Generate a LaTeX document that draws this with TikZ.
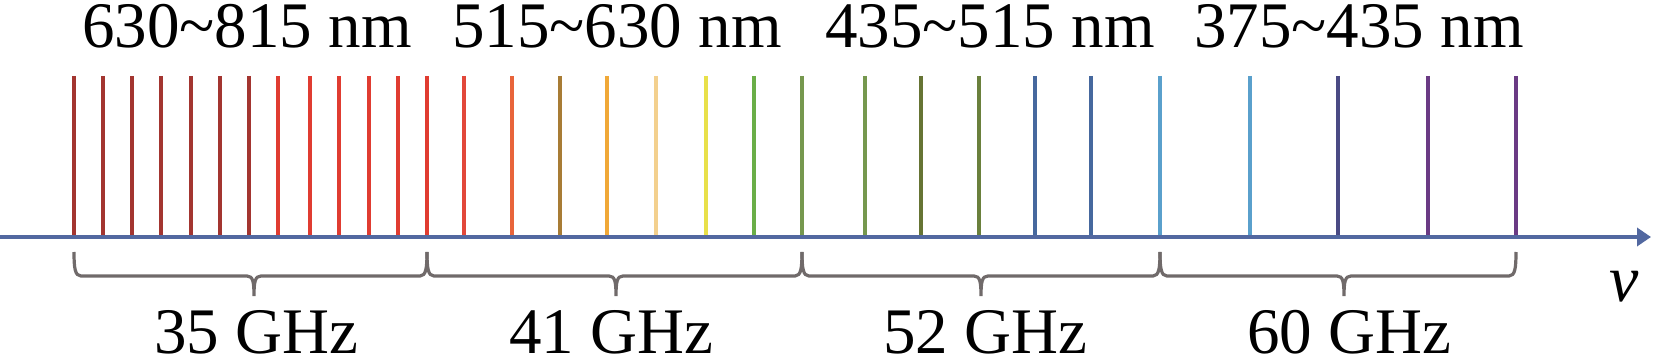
\documentclass[tikz,border=0pt]{standalone}
\usepackage{fontspec}
\setmainfont{Liberation Serif}
\usetikzlibrary{arrows.meta}
\definecolor{axisblue}{RGB}{82,104,160}
\definecolor{bracegray}{RGB}{112,106,106}
\definecolor{cA}{RGB}{163,53,48}
\definecolor{cB}{RGB}{224,60,49}
\definecolor{cC}{RGB}{226,72,58}
\definecolor{cD}{RGB}{232,100,58}
\definecolor{cE}{RGB}{168,124,53}
\definecolor{cF}{RGB}{240,168,56}
\definecolor{cG}{RGB}{243,208,142}
\definecolor{cH}{RGB}{232,224,74}
\definecolor{cI}{RGB}{106,174,72}
\definecolor{cJ}{RGB}{118,152,78}
\definecolor{cK}{RGB}{102,116,52}
\definecolor{cL}{RGB}{106,128,60}
\definecolor{cM}{RGB}{70,104,158}
\definecolor{cN}{RGB}{90,160,204}
\definecolor{cO}{RGB}{74,74,132}
\definecolor{cP}{RGB}{106,58,132}
\tikzstyle{spec}=[line width=2.1pt]
\tikzstyle{brc}=[line width=1.6pt, draw=bracegray]
\tikzstyle{lbl}=[inner sep=0pt, anchor=base, text height=22pt, text depth=0pt,
                 font=\fontsize{32.5}{36}\selectfont]

\begin{document}
\begin{tikzpicture}[x=0.5pt,y=-0.5pt]
      \useasboundingbox (0,0) rectangle (1654,363);

      % spectral lines
      \foreach \x/\c in {74/cA, 103/cA, 132/cA, 161/cA, 191/cA, 220/cA, 249/cA,
                         278/cB, 310/cB, 339/cB, 369/cB, 398/cB, 427/cB,
                         464/cC, 512/cD, 560/cE, 607/cF, 656/cG, 706/cH, 754/cI,
                         802/cJ, 865/cJ, 921/cK, 979/cL, 1035/cM, 1091/cM,
                         1160/cN, 1250/cN, 1338/cO, 1428/cP, 1516/cP}
        \draw[spec, \c] (\x,76) -- (\x,237);

      % frequency axis
      \coordinate (ax0) at (0,237);
      \coordinate (ax1) at (1651,237);
      \draw[axisblue, line width=2.2pt, -{Triangle[length=7pt,width=9pt]}] (ax0) -- (ax1);
      \node[lbl, text height=15pt, font=\fontsize{33}{36}\selectfont\itshape] (nu) at (1624,301) {v};

      % braces
      \foreach \a/\m/\b in {74/254/427, 427/616/802, 802/981/1160, 1160/1344/1516}{
        \draw[brc] (\a,252) .. controls (\a,268) and (\a+1,276) .. (\a+7,276)
          -- (\m-7,276) .. controls (\m-1,276) and (\m,282) .. (\m,296)
          .. controls (\m,282) and (\m+1,276) .. (\m+7,276)
          -- (\b-7,276) .. controls (\b-1,276) and (\b,268) .. (\b,252);
      }

      % labels
      \node[lbl] (wl1) at (247,48) {630\textasciitilde815 nm};
      \node[lbl] (wl2) at (617,48) {515\textasciitilde630 nm};
      \node[lbl] (wl3) at (990,48) {435\textasciitilde515 nm};
      \node[lbl] (wl4) at (1359,48) {375\textasciitilde435 nm};
      \node[lbl] (fq1) at (256,353) {35 GHz};
      \node[lbl] (fq2) at (611,353) {41 GHz};
      \node[lbl] (fq3) at (985,353) {52 GHz};
      \node[lbl] (fq4) at (1349,353) {60 GHz};
\end{tikzpicture}
\end{document}
